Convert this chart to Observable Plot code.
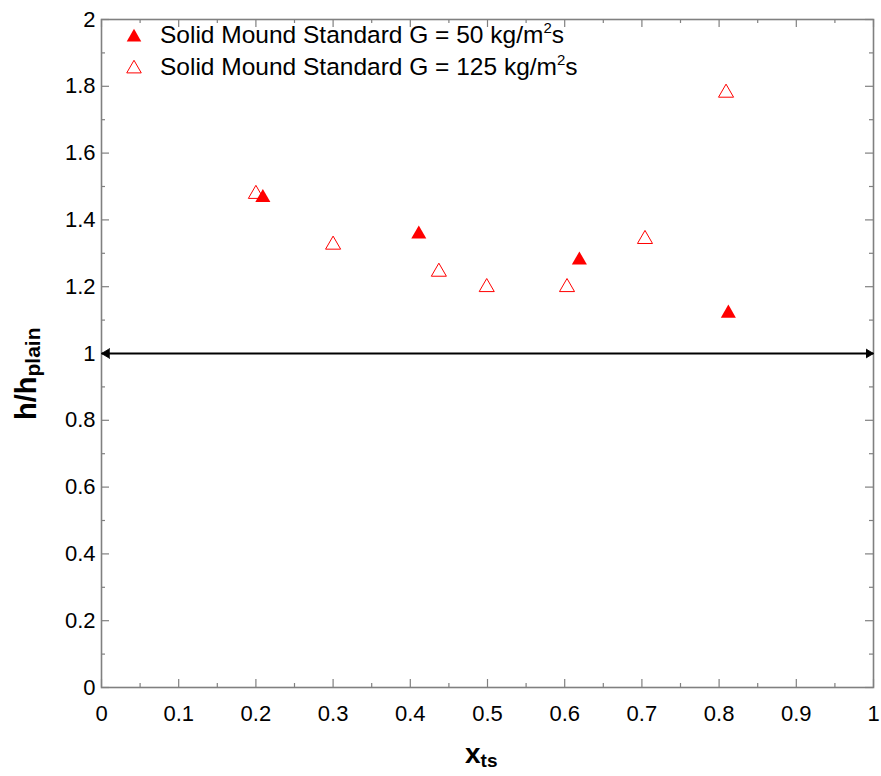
<!DOCTYPE html>
<html>
<head>
<meta charset="utf-8">
<script src="https://cdn.jsdelivr.net/npm/d3@7"></script>
<script src="https://cdn.jsdelivr.net/npm/@observablehq/plot@0.6"></script>
<style>
  html, body { margin: 0; padding: 0; background: #fff; }
  #chart { width: 881px; height: 776px; position: relative; }
</style>
</head>
<body>
<div id="chart"></div>
<script>
// Data: Solid Mound Standard, G = 50 kg/m²s (filled)
const g50X = [0.209, 0.411, 0.619, 0.812];
const g50Y = [1.473, 1.364, 1.286, 1.127];
// Data: Solid Mound Standard, G = 125 kg/m²s (open)
const g125X = [0.200, 0.300, 0.437, 0.499, 0.603, 0.704, 0.809];
const g125Y = [1.484, 1.332, 1.251, 1.205, 1.205, 1.349, 1.787];

const referenceY = [1];
const xMajor = [0, 0.1, 0.2, 0.3, 0.4, 0.5, 0.6, 0.7, 0.8, 0.9, 1];
const xMinor = [0.05, 0.15, 0.25, 0.35, 0.45, 0.55, 0.65, 0.75, 0.85, 0.95];
const yMajor = [0, 0.2, 0.4, 0.6, 0.8, 1, 1.2, 1.4, 1.6, 1.8, 2];
const yMinor = [0.1, 0.3, 0.5, 0.7, 0.9, 1.1, 1.3, 1.5, 1.7, 1.9];

const legendLabels = [
  {text: "Solid Mound Standard G = 50 kg/m", sup: "2", tail: "s", filled: true},
  {text: "Solid Mound Standard G = 125 kg/m", sup: "2", tail: "s", filled: false}
];

const W = 881, H = 776;
const mL = 101, mR = 8, mT = 19, mB = 89;
const innerW = W - mL - mR, innerH = H - mT - mB;
const axisGray = "#808080";
const red = "#ff0000";
const majorLen = 8, minorLen = 4;

const s50 = g50X.map((x, i) => ({x, y: g50Y[i]}));
const s125 = g125X.map((x, i) => ({x, y: g125Y[i]}));

const plot = Plot.plot({
  width: W, height: H,
  marginLeft: mL, marginRight: mR, marginTop: mT, marginBottom: mB,
  style: {fontFamily: "'Liberation Sans', Arial, sans-serif", fontSize: "22px", background: "white", color: "black"},
  x: {domain: [0, 1]},
  y: {domain: [0, 2]},
  marks: [
    // tick labels
    Plot.axisX({ticks: xMajor, tickSize: 0, tickPadding: 18, fontSize: 22, label: null, tickFormat: d => String(+d.toFixed(2))}),
    Plot.axisY({ticks: yMajor, tickSize: 0, tickPadding: 6, fontSize: 22, label: null, tickFormat: d => String(+d.toFixed(2))}),
    // inward ticks on all four sides
    Plot.tickX(xMajor, {x: d => d, insetTop: innerH - majorLen, stroke: axisGray, strokeWidth: 1.2}),
    Plot.tickX(xMinor, {x: d => d, insetTop: innerH - minorLen, stroke: axisGray, strokeWidth: 1.2}),
    Plot.tickX(xMajor, {x: d => d, insetBottom: innerH - majorLen, stroke: axisGray, strokeWidth: 1.2}),
    Plot.tickX(xMinor, {x: d => d, insetBottom: innerH - minorLen, stroke: axisGray, strokeWidth: 1.2}),
    Plot.tickY(yMajor, {y: d => d, insetRight: innerW - majorLen, stroke: axisGray, strokeWidth: 1.2}),
    Plot.tickY(yMinor, {y: d => d, insetRight: innerW - minorLen, stroke: axisGray, strokeWidth: 1.2}),
    Plot.tickY(yMajor, {y: d => d, insetLeft: innerW - majorLen, stroke: axisGray, strokeWidth: 1.2}),
    Plot.tickY(yMinor, {y: d => d, insetLeft: innerW - minorLen, stroke: axisGray, strokeWidth: 1.2}),
    Plot.frame({stroke: axisGray, strokeWidth: 1.6}),
    // reference line h/h_plain = 1 with double arrow
    Plot.link(referenceY, {x1: () => 0, x2: () => 1, y1: d => d, y2: d => d, stroke: "black", strokeWidth: 2, markerStart: "arrow", markerEnd: "arrow"}),
    // data
    Plot.dot(s125, {x: "x", y: "y", symbol: "triangle", r: 5.6, dy: 2.2, stroke: red, strokeWidth: 1, fill: "white"}),
    Plot.dot(s50, {x: "x", y: "y", symbol: "triangle", r: 5.6, dy: 2.2, fill: red, stroke: "none"})
  ]
});

document.getElementById("chart").appendChild(plot);
const svg = d3.select(plot);

// filled arrowheads, pointing outward at both ends
svg.selectAll("marker").attr("markerWidth", 8).attr("markerHeight", 8).attr("orient", "auto-start-reverse");
svg.selectAll("marker path").attr("d", "M-5,-3L0,0L-5,3Z").attr("fill", "black").attr("stroke", "black").attr("stroke-width", 0.5);

const ff = "'Liberation Sans', Arial, sans-serif";

// Y axis title
const yt = svg.append("text")
  .attr("transform", "translate(36,420) rotate(-90)")
  .attr("font-family", ff).attr("font-weight", "bold").attr("fill", "black")
  .attr("text-anchor", "start");
yt.append("tspan").attr("font-size", 29).text("h/h");
yt.append("tspan").attr("font-size", 21).attr("dy", 4).text("plain");

// X axis title
const xt = svg.append("text")
  .attr("x", 465).attr("y", 763)
  .attr("text-anchor", "start")
  .attr("font-family", ff).attr("font-weight", "bold").attr("fill", "black");
xt.append("tspan").attr("font-size", 28).text("x");
xt.append("tspan").attr("font-size", 19).attr("dy", 4).text("ts");

// Legend
const sym = d3.symbol(d3.symbolTriangle, Math.PI * 5.4 * 5.4);
legendLabels.forEach((L, i) => {
  const cy = 37.2 + i * 31.5;
  svg.append("path").attr("d", sym()).attr("transform", `translate(134,${cy})`)
    .attr("fill", L.filled ? red : "white").attr("stroke", L.filled ? "none" : red).attr("stroke-width", 1);
  const t = svg.append("text").attr("x", 160).attr("y", 43 + i * 31.5)
    .attr("text-anchor", "start")
    .attr("font-family", ff).attr("font-size", 24.5).attr("fill", "black");
  t.append("tspan").text(L.text);
  t.append("tspan").attr("font-size", 15).attr("dy", -10).text(L.sup);
  t.append("tspan").attr("dy", 10).text(L.tail);
});
</script>
</body>
</html>
